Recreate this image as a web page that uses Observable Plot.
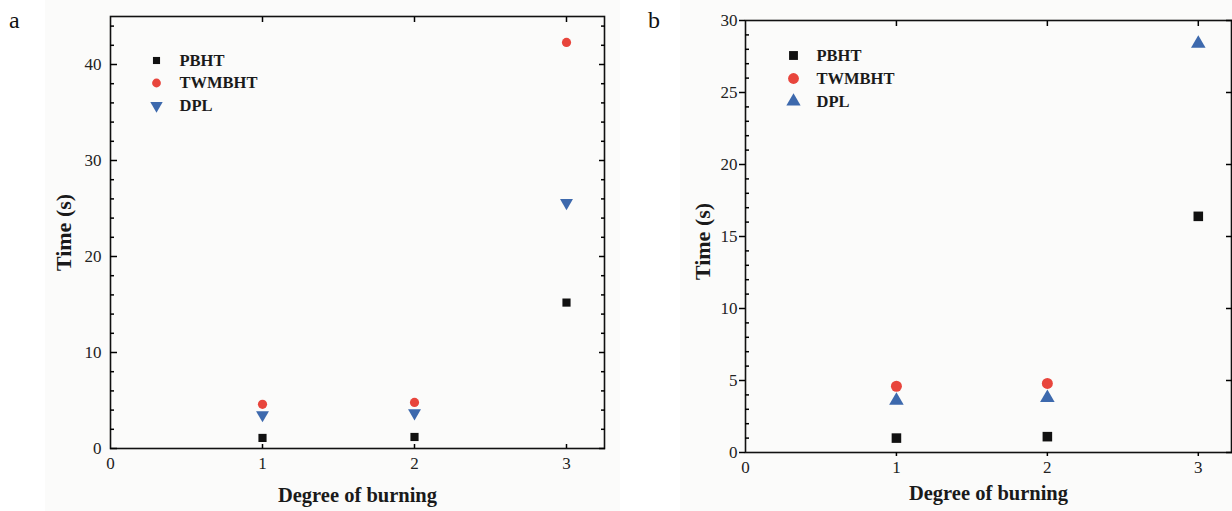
<!DOCTYPE html>
<html><head><meta charset="utf-8">
<script src="https://cdn.jsdelivr.net/npm/d3@7"></script>
<script src="https://cdn.jsdelivr.net/npm/@observablehq/plot@0.6"></script>
<style>
body{margin:0;background:#fff;}
#wrap{position:relative;width:1232px;height:511px;overflow:hidden;background:#fff}
#wrap svg text{font-family:'Liberation Serif','Times New Roman',serif;}
.panel{position:absolute;top:0}
.bg{position:absolute;top:0;height:511px;background:#fbfbfa}
.tag{position:absolute;font:24px "Liberation Serif",serif;color:#111;line-height:1}
</style></head><body><div id="wrap"></div><script>
// ---- data ----
const degrees = [1, 2, 3];
const seriesNames = ["PBHT", "TWMBHT", "DPL"];
const aPBHT   = [1.1, 1.2, 15.2];
const aTWMBHT = [4.6, 4.8, 42.3];
const aDPL    = [3.5, 3.7, 25.6];
const bPBHT   = [1.0, 1.1, 16.4];
const bTWMBHT = [4.6, 4.8, null];
const bDPL    = [3.6, 3.8, 28.4];
const xTicks  = [0, 1, 2, 3];
const aYTicks = [0, 10, 20, 30, 40];
const bYTicks = [0, 5, 10, 15, 20, 25, 30];
const colors  = ["#111111", "#e8453c", "#3d69ad"];
const xLabel = "Degree of burning";
const yLabel = "Time (s)";

const triangleDown = {
  draw(context, size) {
    const s3 = Math.sqrt(3);
    const y = Math.sqrt(size / (s3 * 3));
    context.moveTo(0, y * 2);
    context.lineTo(-s3 * y, -y);
    context.lineTo(s3 * y, -y);
    context.closePath();
  }
};

const font = "'Liberation Serif', 'Times New Roman', serif";
const wrap = document.getElementById("wrap");

function rows(vals, name) {
  return degrees.map((d, i) => ({degree: d, time: vals[i], series: name})).filter(r => r.time != null);
}

function panel(cfg) {
  const noText = () => "";
  const marks = [
    Plot.frame({stroke: "#111", strokeWidth: 1.6}),
    // tick labels
    Plot.axisY({anchor: "left", ticks: cfg.yTicks, tickSize: 0, tickPadding: cfg.yPad, fontSize: 17, fontFamily: font, fill: "#222", label: null}),
    Plot.axisX({anchor: "bottom", ticks: xTicks, tickSize: 0, tickPadding: 8, tickFormat: d3.format("d"), fontSize: 17, fontFamily: font, fill: "#222", label: null}),
    // tick marks
    Plot.axisY({anchor: "left", ticks: cfg.yTicks, tickSize: cfg.leftMajor, tickFormat: noText, label: null, strokeWidth: 1.5}),
    Plot.axisY({anchor: "left", ticks: cfg.yMinor, tickSize: -4, tickFormat: noText, label: null, strokeWidth: 1.5}),
    Plot.axisY({anchor: "right", ticks: cfg.yTicks, tickSize: -6, tickFormat: noText, label: null, strokeWidth: 1.5}),
    Plot.axisX({anchor: "bottom", ticks: [1, 2, 3], tickSize: cfg.bottomTick, tickFormat: noText, label: null, strokeWidth: 1.5}),
    Plot.axisX({anchor: "top", ticks: [1, 2, 3], tickSize: -5, tickFormat: noText, label: null, strokeWidth: 1.5}),
    // axis titles
    Plot.text([yLabel], {frameAnchor: "left", textAnchor: "middle", lineAnchor: "middle", dx: cfg.yTitleDx, dy: cfg.yTitleDy, rotate: -90, fontSize: 22, fontWeight: "bold", fontFamily: font, fill: "#1a1a1a"}),
    Plot.text([xLabel], {frameAnchor: "bottom", textAnchor: "middle", lineAnchor: "middle", dy: cfg.xTitleDy, fontSize: 20.5, fontWeight: "bold", fontFamily: font, fill: "#1a1a1a"})
  ];
  if (cfg.rightMinor) marks.push(Plot.axisY({anchor: "right", ticks: cfg.yMinor, tickSize: -4, tickFormat: noText, label: null, strokeWidth: 1.5}));
  cfg.series.forEach((s, i) => {
    marks.push(Plot.dot(rows(s.values, seriesNames[i]), {x: "degree", y: "time", fill: colors[i], stroke: null, symbol: s.symbol, r: s.r}));
    // legend
    marks.push(Plot.dot([seriesNames[i]], {frameAnchor: "top-left", dx: cfg.legX, dy: cfg.legY + i * cfg.legStep, fill: colors[i], symbol: s.symbol, r: s.lr}));
    marks.push(Plot.text([seriesNames[i]], {frameAnchor: "top-left", lineAnchor: "middle", dx: cfg.legX + 23, dy: cfg.legY + i * cfg.legStep, textAnchor: "start", fontSize: 16.5, fontWeight: "bold", fontFamily: font, fill: "#1a1a1a"}));
  });
  return Plot.plot({
    width: cfg.width, height: 511,
    marginLeft: cfg.ml, marginRight: cfg.mr, marginTop: cfg.mt, marginBottom: cfg.mb,
    style: {background: "transparent", fontFamily: font},
    x: {domain: cfg.xDomain, axis: null},
    y: {domain: cfg.yDomain, axis: null},
    marks
  });
}

function addBg(left, w) { const d = document.createElement("div"); d.className = "bg"; d.style.left = left + "px"; d.style.width = w + "px"; wrap.appendChild(d); }
addBg(45, 575);
addBg(680, 552);

const pa = panel({
  width: 620, ml: 110, mr: 16, mt: 16, mb: 63,
  xDomain: [0, 3.25], yDomain: [0, 45],
  yTicks: aYTicks, yMinor: d3.range(0, 45, 2).filter(v => v % 10 !== 0),
  leftMajor: -7, rightMinor: true, yPad: 9, bottomTick: -4,
  yTitleDx: -47, yTitleDy: 0, xTitleDy: 47,
  legX: 46, legY: 44, legStep: 22.5,
  series: [
    {values: aPBHT, symbol: "square", r: 4.6, lr: 4},
    {values: aTWMBHT, symbol: "circle", r: 4.6, lr: 4.4},
    {values: aDPL, symbol: triangleDown, r: 4.8, lr: 4.6}
  ]
});
const pb = panel({
  width: 612, ml: 125, mr: 1, mt: 20, mb: 59,
  xDomain: [0, 3.22], yDomain: [0, 30],
  yTicks: bYTicks, yMinor: d3.range(0, 30, 1).filter(v => v % 5 !== 0),
  leftMajor: 6, rightMinor: false, yPad: 8, bottomTick: 4,
  yTitleDx: -43, yTitleDy: 5, xTitleDy: 41,
  legX: 48, legY: 35, legStep: 23,
  series: [
    {values: bPBHT, symbol: "square", r: 5.4, lr: 5},
    {values: bTWMBHT, symbol: "circle", r: 5.5, lr: 5.4},
    {values: bDPL, symbol: "triangle", r: 5.4, lr: 5.3}
  ]
});
pa.classList.add("panel"); pa.style.left = "0px";
pb.classList.add("panel"); pb.style.left = "620px";
wrap.appendChild(pa); wrap.appendChild(pb);

function tag(t, left, top) { const d = document.createElement("div"); d.className = "tag"; d.textContent = t; d.style.left = left + "px"; d.style.top = top + "px"; wrap.appendChild(d); }
tag("a", 9, 8);
tag("b", 648, 8);
</script></body></html>
